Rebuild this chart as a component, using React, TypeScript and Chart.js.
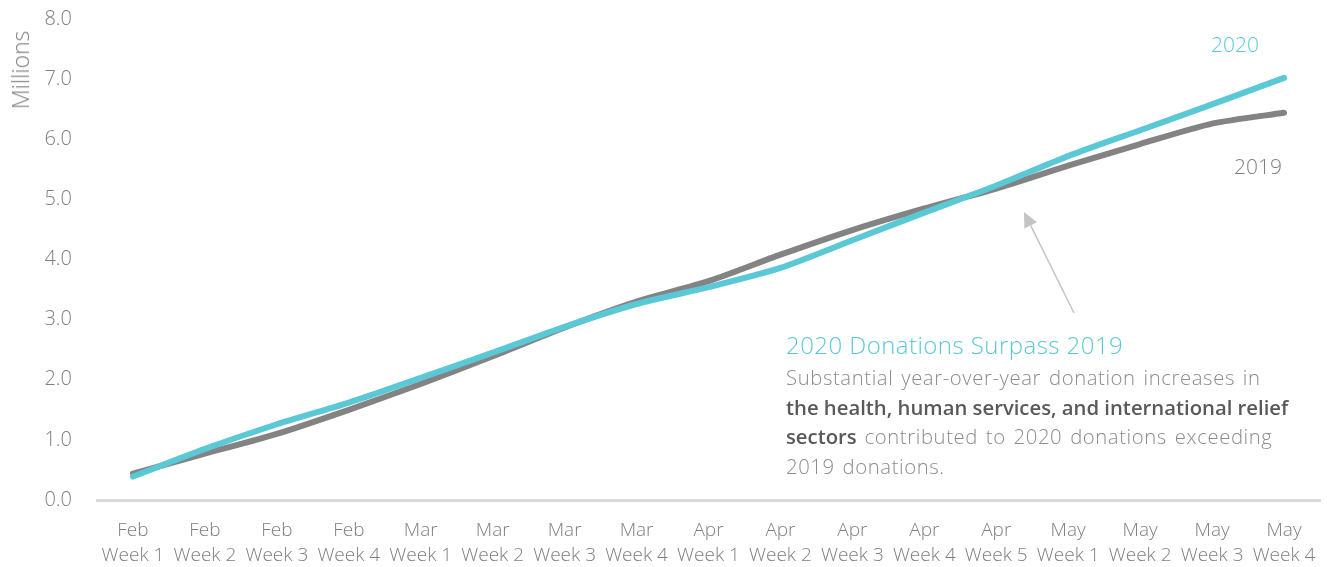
import React, { useEffect, useRef } from "react";
import { Chart, registerables } from "chart.js";

Chart.register(...registerables);

const categories: string[][] = [
  ["Feb", "Week 1"], ["Feb", "Week 2"], ["Feb", "Week 3"], ["Feb", "Week 4"],
  ["Mar", "Week 1"], ["Mar", "Week 2"], ["Mar", "Week 3"], ["Mar", "Week 4"],
  ["Apr", "Week 1"], ["Apr", "Week 2"], ["Apr", "Week 3"], ["Apr", "Week 4"], ["Apr", "Week 5"],
  ["May", "Week 1"], ["May", "Week 2"], ["May", "Week 3"], ["May", "Week 4"],
];

const values2020: number[] = [0.39, 0.85, 1.26, 1.62, 2.03, 2.45, 2.88, 3.26, 3.54, 3.86, 4.32, 4.78, 5.23, 5.72, 6.15, 6.58, 7.02];
const values2019: number[] = [0.44, 0.77, 1.1, 1.5, 1.93, 2.39, 2.87, 3.3, 3.64, 4.08, 4.49, 4.85, 5.18, 5.56, 5.92, 6.26, 6.44];

const yTicks: number[] = [0, 1, 2, 3, 4, 5, 6, 7, 8];

const CYAN = "#5BC8D6";
const GRAY = "#838383";
const TEXT = "#7f7f7f";
const FONT = "'Open Sans', 'Noto Sans', sans-serif";

const arrowPlugin = {
  id: "arrowPlugin",
  afterDraw(chart: any) {
    const ctx = chart.ctx;
    const x1 = 1074, y1 = 313, tx = 1024, ty = 212;
    const ang = Math.atan2(ty - y1, tx - x1);
    const headLen = 15, headW = 7;
    const bx = tx - headLen * Math.cos(ang);
    const by = ty - headLen * Math.sin(ang);
    ctx.save();
    ctx.strokeStyle = "#c4c4c4";
    ctx.fillStyle = "#c4c4c4";
    ctx.lineWidth = 1.5;
    ctx.beginPath();
    ctx.moveTo(x1, y1);
    ctx.lineTo(bx, by);
    ctx.stroke();
    ctx.beginPath();
    ctx.moveTo(tx, ty);
    ctx.lineTo(bx + headW * Math.sin(ang), by - headW * Math.cos(ang));
    ctx.lineTo(bx - headW * Math.sin(ang), by + headW * Math.cos(ang));
    ctx.closePath();
    ctx.fill();
    ctx.restore();
  },
};

export default function App() {
  const ref = useRef<HTMLCanvasElement | null>(null);

  useEffect(() => {
    if (!ref.current) return;
    const chart = new Chart(ref.current, {
      type: "line",
      data: {
        labels: categories,
        datasets: [
          {
            label: "2020",
            data: values2020,
            borderColor: CYAN,
            backgroundColor: CYAN,
            borderWidth: 6,
            borderCapStyle: "round",
            borderJoinStyle: "round",
            pointRadius: 0,
            tension: 0.25,
          },
          {
            label: "2019",
            data: values2019,
            borderColor: GRAY,
            backgroundColor: GRAY,
            borderWidth: 6,
            borderCapStyle: "round",
            borderJoinStyle: "round",
            pointRadius: 0,
            tension: 0.25,
          },
        ],
      },
      options: {
        animation: false,
        responsive: true,
        maintainAspectRatio: false,
        layout: { padding: { top: 19, right: 7, left: 0, bottom: 0 } },
        plugins: { legend: { display: false }, tooltip: { enabled: false } },
        scales: {
          x: {
            offset: true,
            grid: { display: false, drawTicks: true, tickLength: 18 },
            border: { display: true, color: "#d9d9d9", width: 3 },
            ticks: {
              color: TEXT,
              font: { family: FONT, size: 19, weight: "300", lineHeight: 1.32 },
              maxRotation: 0,
              autoSkip: false,
              padding: 0,
            },
            afterFit: (s: any) => { s.height = 67; },
          },
          y: {
            min: 0,
            max: 8,
            afterBuildTicks: (s: any) => { s.ticks = yTicks.map((v) => ({ value: v })); },
            grid: { display: false, drawTicks: true, tickLength: 25 },
            border: { display: false },
            ticks: {
              color: TEXT,
              font: { family: FONT, size: 20, weight: "300" },
              padding: 0,
              callback: (v: any) => Number(v).toFixed(1),
            },
            afterFit: (s: any) => { s.width = 97; },
          },
        },
      },
      plugins: [arrowPlugin],
    });
    return () => chart.destroy();
  }, []);

  const light = { fontFamily: FONT, fontWeight: 300 } as React.CSSProperties;
  const bold = { fontWeight: 600, color: "#595959", letterSpacing: "0px", wordSpacing: "0px" } as React.CSSProperties;

  return (
    <div style={{ position: "fixed", left: 0, top: 0, width: 1327, height: 567, background: "#fff" }}>
      <canvas ref={ref} />
      <div
        style={{
          ...light,
          position: "absolute",
          left: 20,
          top: 70,
          fontSize: 23,
          lineHeight: "30px",
          color: TEXT,
          whiteSpace: "nowrap",
          transform: "translate(-50%, -50%) rotate(-90deg)",
        }}
      >
        Millions
      </div>
      <div style={{ ...light, position: "absolute", left: 1211, top: 30, fontSize: 21, lineHeight: "28px", color: CYAN }}>2020</div>
      <div style={{ ...light, position: "absolute", left: 1234, top: 152, fontSize: 21, lineHeight: "28px", color: TEXT }}>2019</div>
      <div style={{ ...light, position: "absolute", left: 786, top: 330, fontSize: 24, lineHeight: "30px", color: CYAN, whiteSpace: "nowrap", letterSpacing: "0.45px" }}>
        2020 Donations Surpass 2019
      </div>
      <div style={{ ...light, position: "absolute", left: 786, top: 363, fontSize: 20.3, lineHeight: "29.5px", color: "#8c8c8c", whiteSpace: "nowrap", letterSpacing: "0.6px", wordSpacing: "2px" }}>
        Substantial year-over-year donation increases in<br />
        <span style={bold}>the health, human services, and international relief</span><br />
        <span style={bold}>sectors</span> contributed to 2020 donations exceeding<br />
        2019 donations.
      </div>
    </div>
  );
}
